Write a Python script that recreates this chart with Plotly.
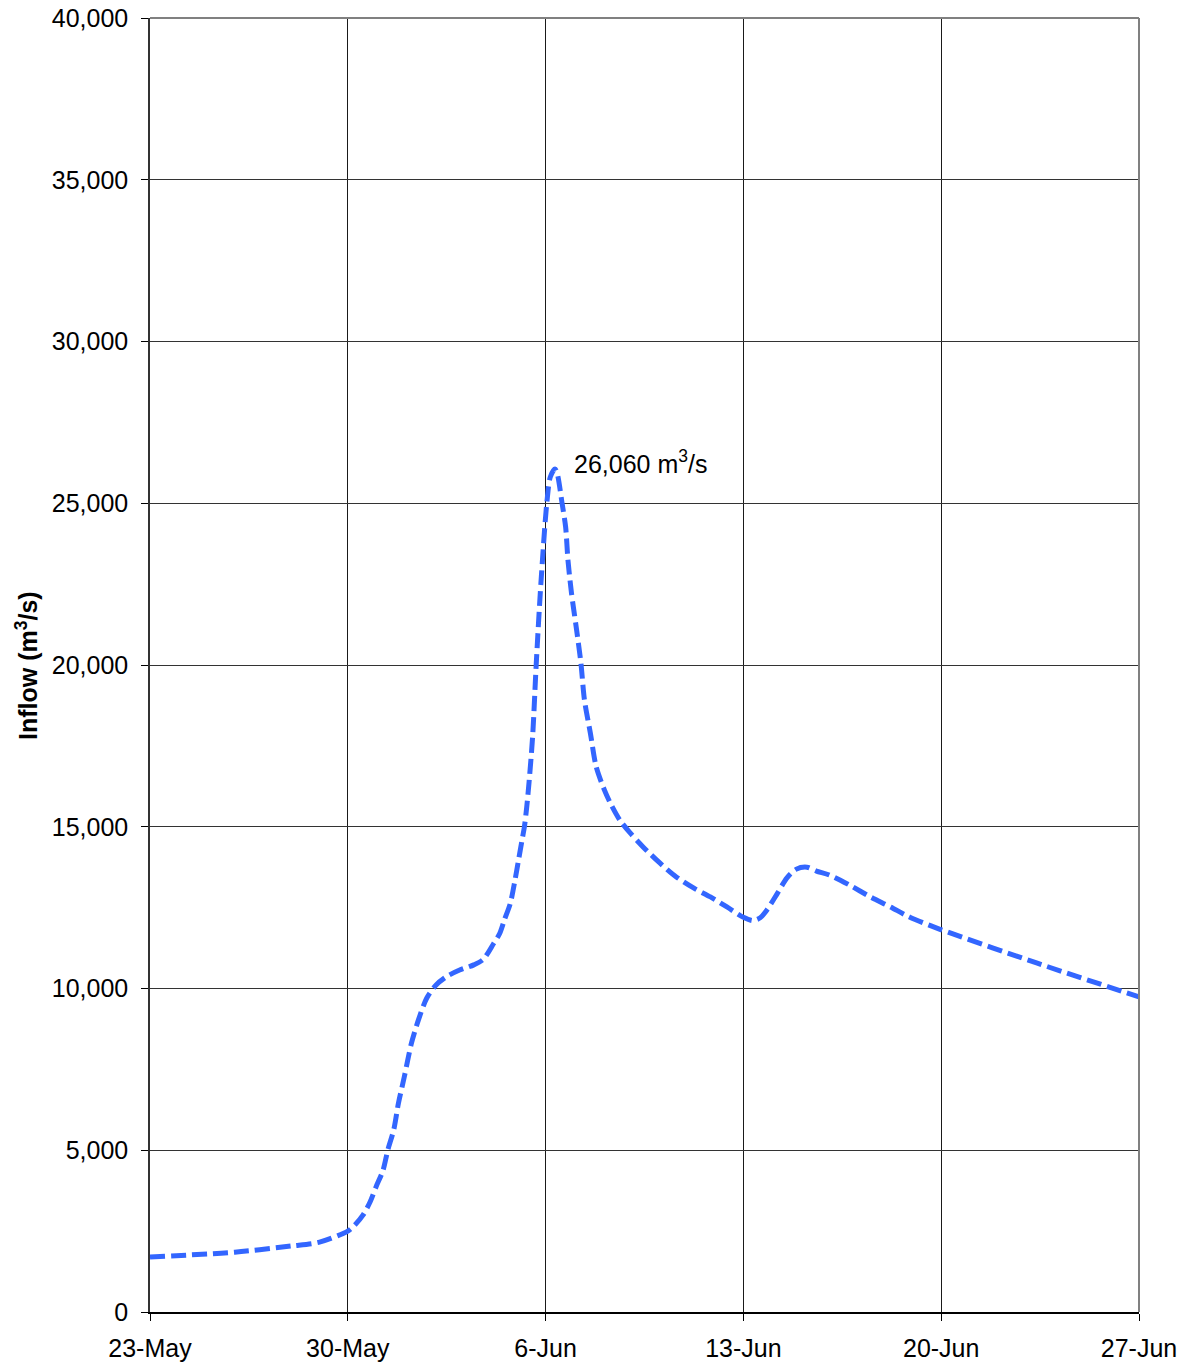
import plotly.graph_objects as go

# Inflow hydrograph data
times = [
    "2007-05-23 00:00", "2007-05-26 00:00", "2007-05-28 00:00", "2007-05-29 00:00",
    "2007-05-30 00:00", "2007-05-30 06:00", "2007-05-30 13:00", "2007-05-30 19:00",
    "2007-05-31 00:00", "2007-05-31 06:00", "2007-05-31 10:00", "2007-05-31 15:00",
    "2007-05-31 19:00", "2007-06-01 00:00", "2007-06-01 06:00", "2007-06-01 12:00",
    "2007-06-01 19:00", "2007-06-02 03:00", "2007-06-02 12:00", "2007-06-02 23:00",
    "2007-06-03 11:00", "2007-06-03 19:00", "2007-06-04 04:00", "2007-06-04 09:00",
    "2007-06-04 13:00", "2007-06-04 18:00", "2007-06-04 22:00", "2007-06-05 01:00",
    "2007-06-05 04:00", "2007-06-05 06:00", "2007-06-05 08:00", "2007-06-05 10:00",
    "2007-06-05 13:00", "2007-06-05 16:00", "2007-06-05 20:00", "2007-06-06 01:00",
    "2007-06-06 04:00", "2007-06-06 08:00", "2007-06-06 10:00", "2007-06-06 14:00",
    "2007-06-06 17:00", "2007-06-06 19:00", "2007-06-06 22:00", "2007-06-07 02:00",
    "2007-06-07 06:00", "2007-06-07 09:00", "2007-06-07 14:00", "2007-06-07 19:00",
    "2007-06-08 02:00", "2007-06-08 07:00", "2007-06-08 15:00", "2007-06-09 00:00",
    "2007-06-09 11:00", "2007-06-10 01:00", "2007-06-10 15:00", "2007-06-11 06:00",
    "2007-06-11 20:00", "2007-06-12 10:00", "2007-06-13 00:00", "2007-06-13 08:00",
    "2007-06-13 14:00", "2007-06-13 20:00", "2007-06-14 05:00", "2007-06-14 13:00",
    "2007-06-14 21:00", "2007-06-15 06:00", "2007-06-15 14:00", "2007-06-16 01:00",
    "2007-06-16 18:00", "2007-06-17 12:00", "2007-06-18 05:00", "2007-06-18 21:00",
    "2007-06-19 23:00", "2007-06-23 09:00", "2007-06-27 00:00",
]
inflow = [
    1700, 1850, 2040, 2160,
    2500, 2690, 3000, 3410,
    3870, 4390, 5010, 5630,
    6450, 7270, 8300, 9030,
    9700, 10110, 10370, 10570,
    10730, 10900, 11400, 11700,
    12120, 12630, 13350, 13970,
    14590, 15000, 15620, 16400,
    17800, 20000, 22520, 25000,
    25810, 26060, 25900, 25000,
    24270, 23240, 22220, 21170,
    20060, 18920, 17900, 16850,
    16130, 15730, 15210, 14800,
    14370, 13880, 13450, 13100,
    12830, 12520, 12200, 12100,
    12180, 12430, 12950, 13420,
    13690, 13750, 13630, 13510,
    13200, 12830, 12520, 12210,
    11830, 10790, 9740,
]

tick_dates = ["2007-05-23", "2007-05-30", "2007-06-06", "2007-06-13", "2007-06-20", "2007-06-27"]
tick_labels = ["23-May", "30-May", "6-Jun", "13-Jun", "20-Jun", "27-Jun"]
y_ticks = [0, 5000, 10000, 15000, 20000, 25000, 30000, 35000, 40000]

y_title = "<b>Inflow (m<sup>3</sup>/s)</b>"
peak_label = "26,060 m<sup>3</sup>/s"
peak_label_pos = ("2007-06-06 22:00", 26270)

font_family = "Liberation Sans"

fig = go.Figure()
fig.add_trace(go.Scatter(
    x=times, y=inflow, mode="lines",
    line=dict(color="#3366FF", width=5, dash="15px,6px", shape="spline", smoothing=0.8),
    showlegend=False, hoverinfo="x+y",
))

fig.add_annotation(
    x=peak_label_pos[0], y=peak_label_pos[1], text=peak_label,
    showarrow=False, xanchor="left", yanchor="middle",
    font=dict(size=25, color="#000000", family=font_family),
)

fig.add_annotation(
    xref="paper", yref="paper", x=-0.1244, y=0.5, text=y_title,
    textangle=-90, showarrow=False, xanchor="center", yanchor="middle",
    font=dict(size=25, color="#000000", family=font_family),
)

fig.update_layout(
    width=1184, height=1367,
    margin=dict(l=150, r=45, t=18, b=55, autoexpand=False),
    paper_bgcolor="white", plot_bgcolor="white",
    font=dict(family=font_family, color="#000000", size=25),
    xaxis=dict(
        type="date",
        range=[tick_dates[0], tick_dates[-1]],
        tickmode="array", tickvals=tick_dates, ticktext=tick_labels,
        showgrid=True, gridcolor="#1a1a1a", gridwidth=1,
        showline=True, linecolor="#000000", linewidth=1.5,
        ticks="outside", ticklen=7, tickcolor="#000000",
        ticklabelstandoff=6,
        tickfont=dict(size=25, family=font_family),
        zeroline=False, automargin=False,
    ),
    yaxis=dict(
        range=[0, 40000],
        tickmode="array", tickvals=y_ticks,
        tickformat=",d",
        showgrid=True, gridcolor="#333333", gridwidth=1,
        showline=True, linecolor="#333333", linewidth=1.5,
        ticks="outside", ticklen=7, tickcolor="#000000",
        ticklabelstandoff=8,
        tickfont=dict(size=25, family=font_family),
        zeroline=False, automargin=False,
    ),
)

# gray plot-area border on top and right
fig.add_shape(type="line", xref="paper", yref="paper", x0=0, x1=1, y0=1, y1=1,
              line=dict(color="#808080", width=2))
fig.add_shape(type="line", xref="paper", yref="paper", x0=1, x1=1, y0=0, y1=1,
              line=dict(color="#808080", width=2))

fig.write_html(
    "out.html",
    config={"displayModeBar": False},
    post_script="document.body.style.margin='0px';document.body.style.overflow='hidden';",
)
